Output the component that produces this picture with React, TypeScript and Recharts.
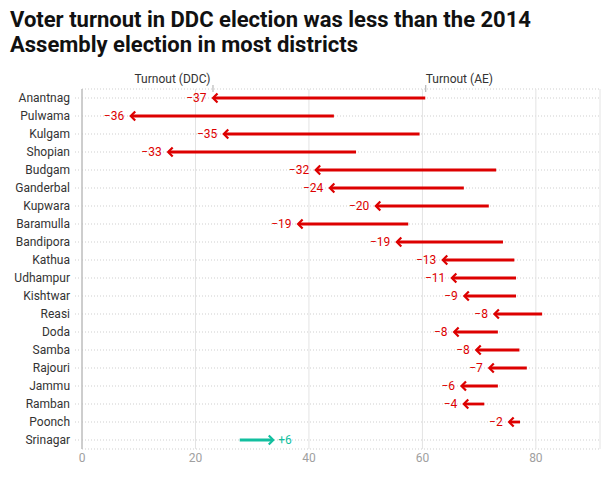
import React from "react";
import { ComposedChart, Bar, XAxis, YAxis, CartesianGrid } from "recharts";

const districts = ["Anantnag", "Pulwama", "Kulgam", "Shopian", "Budgam", "Ganderbal", "Kupwara", "Baramulla", "Bandipora", "Kathua", "Udhampur", "Kishtwar", "Reasi", "Doda", "Samba", "Rajouri", "Jammu", "Ramban", "Poonch", "Srinagar"];
const turnoutAE = [60.5, 44.4, 59.5, 48.3, 73.0, 67.3, 71.7, 57.5, 74.2, 76.2, 76.5, 76.5, 81.1, 73.3, 77.1, 78.4, 73.3, 70.9, 77.2, 27.8];
const turnoutDDC = [23.0, 8.5, 24.9, 15.1, 41.1, 43.6, 51.7, 38.0, 55.4, 63.5, 65.1, 67.3, 72.6, 65.5, 69.4, 71.7, 66.8, 67.2, 75.2, 33.8];
const changeLabels = ["−37", "−36", "−35", "−33", "−32", "−24", "−20", "−19", "−19", "−13", "−11", "−9", "−8", "−8", "−8", "−7", "−6", "−4", "−2", "+6"];
const xTicks = [0, 20, 40, 60, 80];

const titleLines = ["Voter turnout in DDC election was less than the 2014", "Assembly election in most districts"];

const RED = "#dd0000";
const TEAL = "#12bf9f";
const FONT = "Roboto, sans-serif";

const data = districts.map((name, i) => ({
  name,
  ae: turnoutAE[i],
  ddc: turnoutDDC[i],
  label: changeLabels[i],
  range: [Math.min(turnoutAE[i], turnoutDDC[i]), Math.max(turnoutAE[i], turnoutDDC[i])],
}));

const ArrowShape = (props: any) => {
  const { x, y, width, height, payload, index } = props;
  if (x == null || payload == null) return null;
  const cy = y + height / 2;
  const down = payload.ddc < payload.ae;
  const color = down ? RED : TEAL;
  const left = x;
  const right = x + width;
  const tip = down ? left : right;
  const tail = down ? right : left;
  const dir = down ? 1 : -1;
  const h = 5;
  const aeX = tail;
  const ddcX = tip;
  return (
    <g>
      <line x1={tip + dir * 1} y1={cy} x2={tail} y2={cy} stroke={color} strokeWidth={2.8} />
      <polyline
        points={`${tip + dir * h},${cy - 4.5} ${tip + dir * 0.5},${cy} ${tip + dir * h},${cy + 4.5}`}
        fill="none"
        stroke={color}
        strokeWidth={2.2}
      />
      <text
        x={down ? tip - 6 : tip + 4.5}
        y={cy}
        dy="0.36em"
        textAnchor={down ? "end" : "start"}
        fontSize={12}
        fontFamily={FONT}
        fill={color}
      >
        {payload.label}
      </text>
      {index === 0 && (
        <g>
          <line x1={ddcX + 0.5} y1={cy - 13} x2={ddcX + 0.5} y2={cy - 6} stroke="#aaa" strokeWidth={1} />
          <text x={ddcX - 2} y={cy - 15} textAnchor="end" fontSize={12} fontFamily={FONT} fill="#333">
            Turnout (DDC)
          </text>
          <line x1={aeX + 0.5} y1={cy - 13} x2={aeX + 0.5} y2={cy - 6} stroke="#aaa" strokeWidth={1} />
          <text x={aeX + 0.5} y={cy - 15} textAnchor="start" fontSize={12} fontFamily={FONT} fill="#333">
            Turnout (AE)
          </text>
        </g>
      )}
    </g>
  );
};

export default function App() {
  return (
    <div style={{ position: "absolute", left: 0, top: 0, width: 611, height: 481, background: "#fff", fontFamily: FONT }}>
      <div style={{ position: "absolute", left: 10, top: 7, fontSize: 22, fontWeight: 700, lineHeight: "25px", color: "#111", whiteSpace: "nowrap" }}>
        {titleLines.map((t) => (
          <div key={t}>{t}</div>
        ))}
      </div>
      <ComposedChart
        width={611}
        height={481}
        data={data}
        layout="vertical"
        margin={{ top: 89, right: 11, left: 0, bottom: 0 }}
        barCategoryGap={0}
        style={{ position: "absolute", left: 0, top: 0 }}
      >
        <CartesianGrid horizontal={true} vertical={false} stroke="#cfcfcf" strokeDasharray="1 2" />
        <CartesianGrid horizontal={false} vertical={true} stroke="#e3e3e3" />
        <XAxis
          type="number"
          domain={[0, 91.3]}
          ticks={xTicks}
          axisLine={false}
          tickLine={false}
          tickSize={0}
          tickMargin={4}
          height={32}
          tick={{ fill: "#a0a0a0", fontSize: 12, fontFamily: FONT }}
        />
        <YAxis
          type="category"
          dataKey="name"
          width={82}
          axisLine={{ stroke: "#aaa" }}
          tickLine={{ stroke: "#cfcfcf", strokeDasharray: "1 2" }}
          tickSize={7}
          tickMargin={5}
          interval={0}
          tick={{ fill: "#333", fontSize: 12, fontFamily: FONT }}
        />
        <Bar dataKey="range" shape={ArrowShape} isAnimationActive={false} />
      </ComposedChart>
    </div>
  );
}
